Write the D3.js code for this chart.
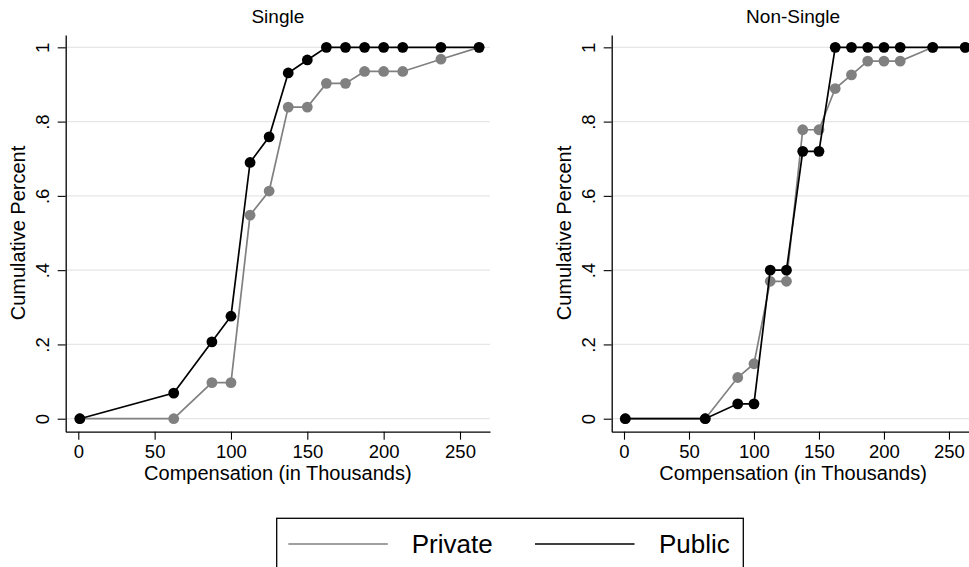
<!DOCTYPE html>
<html>
<head>
<meta charset="utf-8">
<script src="https://cdn.jsdelivr.net/npm/d3@7"></script>
<style>
  html, body { margin: 0; padding: 0; background: #fff; }
  svg { display: block; }
  text { font-family: "Liberation Sans", Arial, Helvetica, sans-serif; fill: #000; }
</style>
</head>
<body>
<svg id="chart" width="969" height="567"></svg>
<script>
// ---- data ----
const compensation = [1, 62.5, 87.5, 100, 112.5, 125, 137.5, 150, 162.5, 175, 187.5, 200, 212.5, 237.5, 262.5];
const singlePrivate = [0, 0, 0.097, 0.097, 0.548, 0.613, 0.839, 0.839, 0.903, 0.903, 0.935, 0.935, 0.935, 0.968, 1];
const singlePublic = [0, 0.069, 0.207, 0.276, 0.690, 0.759, 0.931, 0.966, 1, 1, 1, 1, 1, 1, 1];
const nonSinglePrivate = [0, 0, 0.111, 0.148, 0.370, 0.370, 0.778, 0.778, 0.889, 0.926, 0.963, 0.963, 0.963, 1, 1];
const nonSinglePublic = [0, 0, 0.040, 0.040, 0.400, 0.400, 0.720, 0.720, 1, 1, 1, 1, 1, 1, 1];
const xTicks = [0, 50, 100, 150, 200, 250];
const yTicks = [0, 0.2, 0.4, 0.6, 0.8, 1];
const yTickLabels = ["0", ".2", ".4", ".6", ".8", "1"];
const panelTitles = ["Single", "Non-Single"];
const seriesNames = ["Private", "Public"];

const colors = { Private: "#808080", Public: "#000000" };

const svg = d3.select("#chart");

const panels = [
  { title: panelTitles[0], left: 65.7, right: 490, xMin: -8.25, series: { Private: singlePrivate, Public: singlePublic } },
  { title: panelTitles[1], left: 611.7, right: 974.5, xMin: -9.46, series: { Private: nonSinglePrivate, Public: nonSinglePublic } }
];

const plotTop = 35, plotBottom = 431.7;
const FONT = '"Liberation Sans", Arial, sans-serif';

panels.forEach(p => {
  const x0 = p.left, x1 = p.right;
  const cx = (x0 + x1) / 2;
  const x = d3.scaleLinear().domain([p.xMin, 269.65]).range([x0, x1]);
  const y = d3.scaleLinear().domain([-0.035, 1.0332]).range([plotBottom, plotTop]);

  const g = svg.append("g");

  // grid
  g.append("g").selectAll("line").data(yTicks).join("line")
    .attr("x1", x0).attr("x2", x1)
    .attr("y1", d => y(d)).attr("y2", d => y(d))
    .attr("stroke", "#e6e6e6").attr("stroke-width", 1.2);

  // x axis
  const xa = g.append("g").attr("transform", `translate(0,${plotBottom})`)
    .call(d3.axisBottom(x).tickValues(xTicks).tickSize(8).tickSizeOuter(0).tickFormat(d3.format("d")));
  xa.select(".domain").attr("stroke", "#000").attr("stroke-width", 1.3);
  xa.selectAll(".tick line").attr("stroke", "#000").attr("stroke-width", 1.1);
  xa.selectAll(".tick text").attr("y", 26.6).attr("dy", null)
    .style("font-size", "18.5px").style("font-family", FONT).attr("fill", "#000");

  // y axis
  const ya = g.append("g").attr("transform", `translate(${x0},0)`)
    .call(d3.axisLeft(y).tickValues(yTicks).tickSize(8).tickSizeOuter(0).tickFormat((d, i) => yTickLabels[i]));
  ya.select(".domain").attr("stroke", "#000").attr("stroke-width", 1.3);
  ya.selectAll(".tick line").attr("stroke", "#000").attr("stroke-width", 1.1);
  ya.selectAll(".tick text")
    .attr("x", null).attr("dy", null)
    .attr("text-anchor", "middle")
    .attr("transform", "translate(-16.3,0) rotate(-90)")
    .style("font-size", "18.5px").style("font-family", FONT).attr("fill", "#000");

  // titles
  g.append("text").attr("x", cx).attr("y", 23.3)
    .attr("text-anchor", "middle").style("font-size", "19px").text(p.title);
  g.append("text").attr("x", cx).attr("y", 480)
    .attr("text-anchor", "middle").style("font-size", "20px").text("Compensation (in Thousands)");
  g.append("text")
    .attr("transform", `translate(${x0 - 40.5},${(y(0) + y(1)) / 2}) rotate(-90)`)
    .attr("text-anchor", "middle").style("font-size", "20px").text("Cumulative Percent");

  // series
  const line = d3.line().x((d, i) => x(compensation[i])).y(d => y(d));
  seriesNames.forEach(name => {
    const vals = p.series[name];
    g.append("path").datum(vals)
      .attr("d", line).attr("fill", "none")
      .attr("stroke", colors[name]).attr("stroke-width", 1.7);
    g.append("g").selectAll("circle").data(vals).join("circle")
      .attr("cx", (d, i) => x(compensation[i])).attr("cy", d => y(d))
      .attr("r", 5.4).attr("fill", colors[name]);
  });
});

// legend
const lg = svg.append("g");
lg.append("rect").attr("x", 276.7).attr("y", 518.3).attr("width", 466.6).attr("height", 60)
  .attr("fill", "#fff").attr("stroke", "#000").attr("stroke-width", 1.3);
const legendItems = [
  { name: seriesNames[0], lx: 288.3, tx: 411.7 },
  { name: seriesNames[1], lx: 535, tx: 659 }
];
legendItems.forEach(it => {
  lg.append("line").attr("x1", it.lx).attr("x2", it.lx + 99.5).attr("y1", 544).attr("y2", 544)
    .attr("stroke", colors[it.name]).attr("stroke-width", 1.7);
  lg.append("text").attr("x", it.tx).attr("y", 553.3).style("font-size", "26px").text(it.name);
});
</script>
</body>
</html>
